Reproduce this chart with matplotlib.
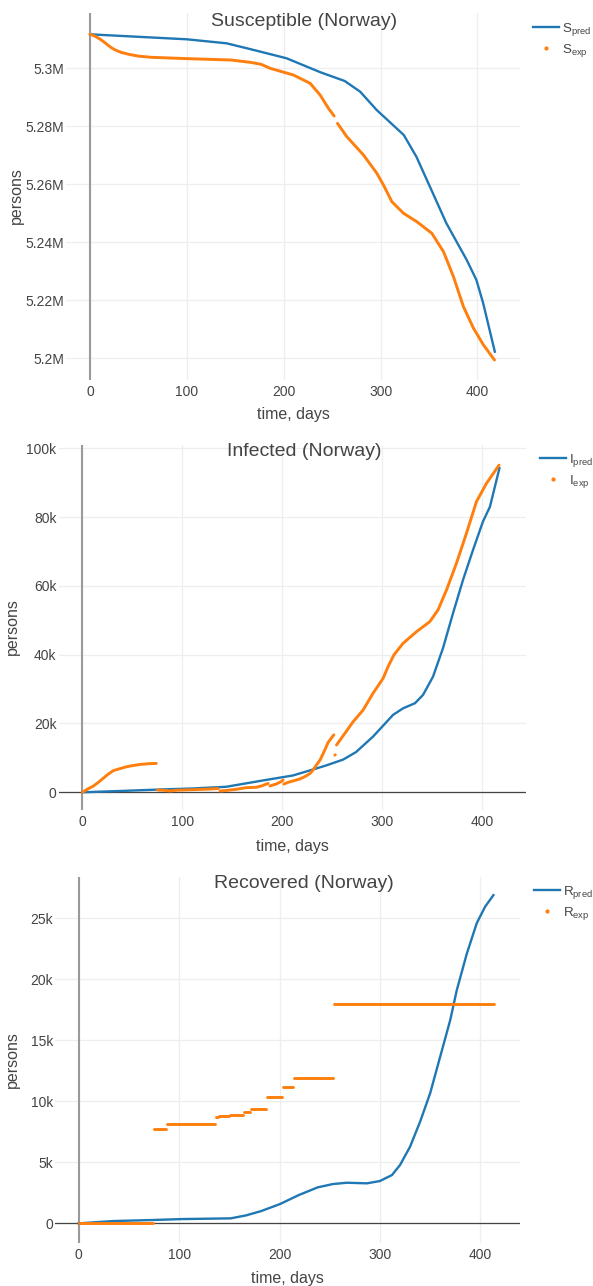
import numpy as np
import matplotlib
matplotlib.use("Agg")
import matplotlib.pyplot as plt
from matplotlib.lines import Line2D
from matplotlib.ticker import FuncFormatter, FixedLocator

plt.rcParams['font.family'] = ['Liberation Sans', 'DejaVu Sans']
plt.rcParams['mathtext.fontset'] = 'custom'
plt.rcParams['mathtext.rm'] = 'Liberation Sans'
plt.rcParams['mathtext.it'] = 'Liberation Sans:italic'

nan = np.nan

# ---------------- Susceptible ----------------
s_pred_days = [0, 100, 141, 165, 203, 238, 263, 279, 296, 324, 337, 351, 368, 389, 399, 406, 418]
s_pred_vals = [5.31172, 5.3100, 5.30862, 5.30666, 5.30345, 5.29862, 5.29562, 5.29193, 5.28562,
               5.27700, 5.26952, 5.25917, 5.24655, 5.23390, 5.22700, 5.21897, 5.20228]
s_exp_days = [0, 5, 10.6, 14, 18.4, 22, 26.2, 32, 39.9, 50, 63.3, 102.4, 145.4, 165.3, 176.7,
              186, 210, 227.3, 237.6, 246.2, 252.1, nan, 255.5, 265.2, 282.4, 296.2, 303, 311.7,
              323.7, 337.5, 353, 365, 375.3, 385.6, 396, 406.3, 417.7]
s_exp_vals = [5.31172, 5.3111, 5.3100, 5.3092, 5.30803, 5.3071, 5.30631, 5.3055, 5.30483,
              5.3042, 5.30379, 5.30331, 5.30286, 5.30207, 5.30138, 5.3000, 5.29769, 5.29483,
              5.29079, 5.28620, 5.28355, nan, 5.28103, 5.27641, 5.27010, 5.26379, 5.25976,
              5.25400, 5.25000, 5.24710, 5.24310, 5.23676, 5.22814, 5.21779, 5.21034, 5.20459,
              5.19941]

# ---------------- Infected (thousands) ----------------
i_pred_days = [0, 40, 77, 110, 144, 178, 211, 235, 244, 261, 274, 291, 311, 321, 333, 341, 351,
               361, 371, 381, 391, 401, 408, 417.5]
i_pred_vals = [0, 0.4, 0.8, 1.1, 1.6, 3.3, 4.9, 7.0, 7.8, 9.5, 11.7, 16.2, 22.5, 24.4, 25.9,
               28.3, 33.6, 41.9, 52.0, 61.7, 70.4, 78.7, 83.0, 94.2]
i_exp_days = [0, 5, 11, 16, 21, 26, 31, 38, 44, 51, 58, 66, 74, nan,
              75, 80, 88, 95, 105, 115, 125, 136, nan,
              137.7, 145, 154, 164, 174, 180, 186, nan,
              187.7, 194, 199, 201, nan,
              201.7, 206, 211, 218, 224, 228, 231, 234, 238, 242.7, 246, 251.7, nan,
              252.7, 253.2, nan,
              254.4, 262.7, 271, 281, 291, 301, 306, 311.8, 321, 334.5, 347.8, 356, 364.5,
              374.5, 384.5, 394.5, 404.5, 417.1]
i_exp_vals = [0, 0.9, 1.8, 2.9, 4.1, 5.3, 6.3, 6.9, 7.4, 7.8, 8.1, 8.3, 8.4, nan,
              0.67, 0.6, 0.38, 0.6, 0.7, 0.8, 0.9, 1.1, nan,
              0.38, 0.55, 0.87, 1.34, 1.45, 1.9, 2.6, nan,
              1.83, 2.4, 3.1, 3.6, nan,
              2.4, 2.9, 3.3, 3.9, 4.74, 5.5, 6.5, 7.8, 9.4, 12.3, 14.5, 16.7, nan,
              10.8, 10.9, nan,
              13.75, 17.1, 20.5, 23.9, 28.8, 33.1, 36.5, 39.9, 43.3, 46.7, 49.6, 53.0, 58.8,
              66.6, 75.3, 84.5, 89.8, 95.1]

# ---------------- Recovered (thousands) ----------------
r_pred_days = [0, 34.6, 72.3, 102.4, 151.4, 166.5, 181.5, 200.4, 219.2, 238, 253, 267, 287,
               300, 312, 320, 330, 340, 350, 360, 370, 376.5, 386.5, 396.4, 404.7, 413]
r_pred_vals = [0, 0.19, 0.27, 0.35, 0.41, 0.65, 1.0, 1.58, 2.32, 2.95, 3.22, 3.33, 3.28,
               3.47, 3.96, 4.78, 6.28, 8.33, 10.66, 13.66, 16.66, 19.1, 22.1, 24.6, 25.95, 26.9]
r_exp_start = [0, 75, 88, 137, 140, 151, 165, 172, 188, 203, 214, 254]
r_exp_end = [74, 87, 136, 139, 150, 164, 171, 187, 202, 213, 253, 414]
r_exp_vals = [0, 7.73, 8.11, 8.69, 8.77, 8.85, 9.15, 9.37, 10.38, 11.17, 11.88, 18.0]

BLUE = '#1f77b4'
ORANGE = '#ff7f0e'
TXT = '#444444'
W, H = 593, 1286

fig = plt.figure(figsize=(W / 100, H / 100), dpi=100)


def rect(l, t, r, b):
    return [l / W, 1 - b / H, (r - l) / W, (b - t) / H]


def style(ax, xlim, ylim, yticks, fmt, hzero):
    ax.set_xlim(*xlim)
    ax.set_ylim(*ylim)
    for s in ax.spines.values():
        s.set_visible(False)
    ax.xaxis.set_major_locator(FixedLocator([0, 100, 200, 300, 400]))
    ax.yaxis.set_major_locator(FixedLocator(yticks))
    ax.yaxis.set_major_formatter(FuncFormatter(fmt))
    ax.grid(True, color='#eeeeee', lw=0.9, zorder=0)
    ax.set_axisbelow(True)
    ax.tick_params(length=0, labelsize=10, colors=TXT)
    ax.tick_params(axis='y', pad=1.5)
    ax.tick_params(axis='x', pad=3.5)
    ax.axvline(0, color='#9a9a9a', lw=1.5, zorder=1)
    if hzero:
        ax.axhline(0, color='#444444', lw=0.9, zorder=1)


def fmt_m(v, p):
    return f'{v / 1e6:g}M'


def fmt_k(v, p):
    return '0' if v == 0 else f'{v / 1e3:g}k'


def legend(ax, sym, x_px, y_px):
    h = [Line2D([], [], color=BLUE, lw=1.7),
         Line2D([], [], color=ORANGE, marker='o', ms=2.0, ls='none')]
    labels = [sym + r'$_{\mathrm{pred}}$', sym + r'$_{\mathrm{exp}}$']
    fig.legend(h, labels, loc='upper left', bbox_to_anchor=(x_px / W, 1 - y_px / H),
               frameon=False, fontsize=9.6, handlelength=1.95, handletextpad=0.25,
               labelspacing=0.3, borderpad=0, borderaxespad=0, labelcolor=TXT)


def labels(title, ty, xl_y, yl_x, yl_y, xl_x):
    fig.text(304 / W, 1 - ty / H, title, ha='center', va='center', fontsize=14, color=TXT)
    fig.text(xl_x / W, 1 - xl_y / H, 'time, days', ha='center', va='center', fontsize=11.5, color=TXT)
    fig.text(yl_x / W, 1 - yl_y / H, 'persons', ha='center', va='center', rotation=90,
             fontsize=11.5, color=TXT)


# Panel 1
ax1 = fig.add_axes(rect(66, 13, 520, 380))
style(ax1, (-24.8, 444), (5.19252e6, 5.31907e6),
      [5.2e6, 5.22e6, 5.24e6, 5.26e6, 5.28e6, 5.3e6], fmt_m, False)
ax1.plot(s_pred_days, np.array(s_pred_vals) * 1e6, color=BLUE, lw=1.7, zorder=3)
ax1.plot(s_exp_days, np.array(s_exp_vals) * 1e6, color=ORANGE, lw=2.1, zorder=4,
         solid_capstyle='round')
legend(ax1, 'S', 533, 21)
labels('Susceptible (Norway)', 21, 414, 16, 196, 293)

# Panel 2
ax2 = fig.add_axes(rect(58.6, 445, 525.7, 810))
style(ax2, (-23.8, 443.8), (-5150, 100960),
      [0, 20e3, 40e3, 60e3, 80e3, 100e3], fmt_k, True)
ax2.plot(i_pred_days, np.array(i_pred_vals) * 1e3, color=BLUE, lw=1.7, zorder=3)
ax2.plot(i_exp_days, np.array(i_exp_vals) * 1e3, color=ORANGE, lw=2.1, zorder=4,
         solid_capstyle='round')
legend(ax2, 'I', 540, 452)
labels('Infected (Norway)', 452, 846, 12, 627, 292)

# Panel 3
ax3 = fig.add_axes(rect(55, 877, 520, 1243))
style(ax3, (-23.6, 439.5), (-1610, 28390),
      [0, 5e3, 10e3, 15e3, 20e3, 25e3], fmt_k, True)
ax3.plot(r_pred_days, np.array(r_pred_vals) * 1e3, color=BLUE, lw=1.7, zorder=3)
for s, e, v in zip(r_exp_start, r_exp_end, r_exp_vals):
    ax3.plot([s, e], [v * 1e3, v * 1e3], color=ORANGE, lw=2.1, zorder=4, solid_capstyle='round')
legend(ax3, 'R', 534, 884)
labels('Recovered (Norway)', 883, 1278, 12, 1060, 287)

fig.savefig('out.png', dpi=100)
